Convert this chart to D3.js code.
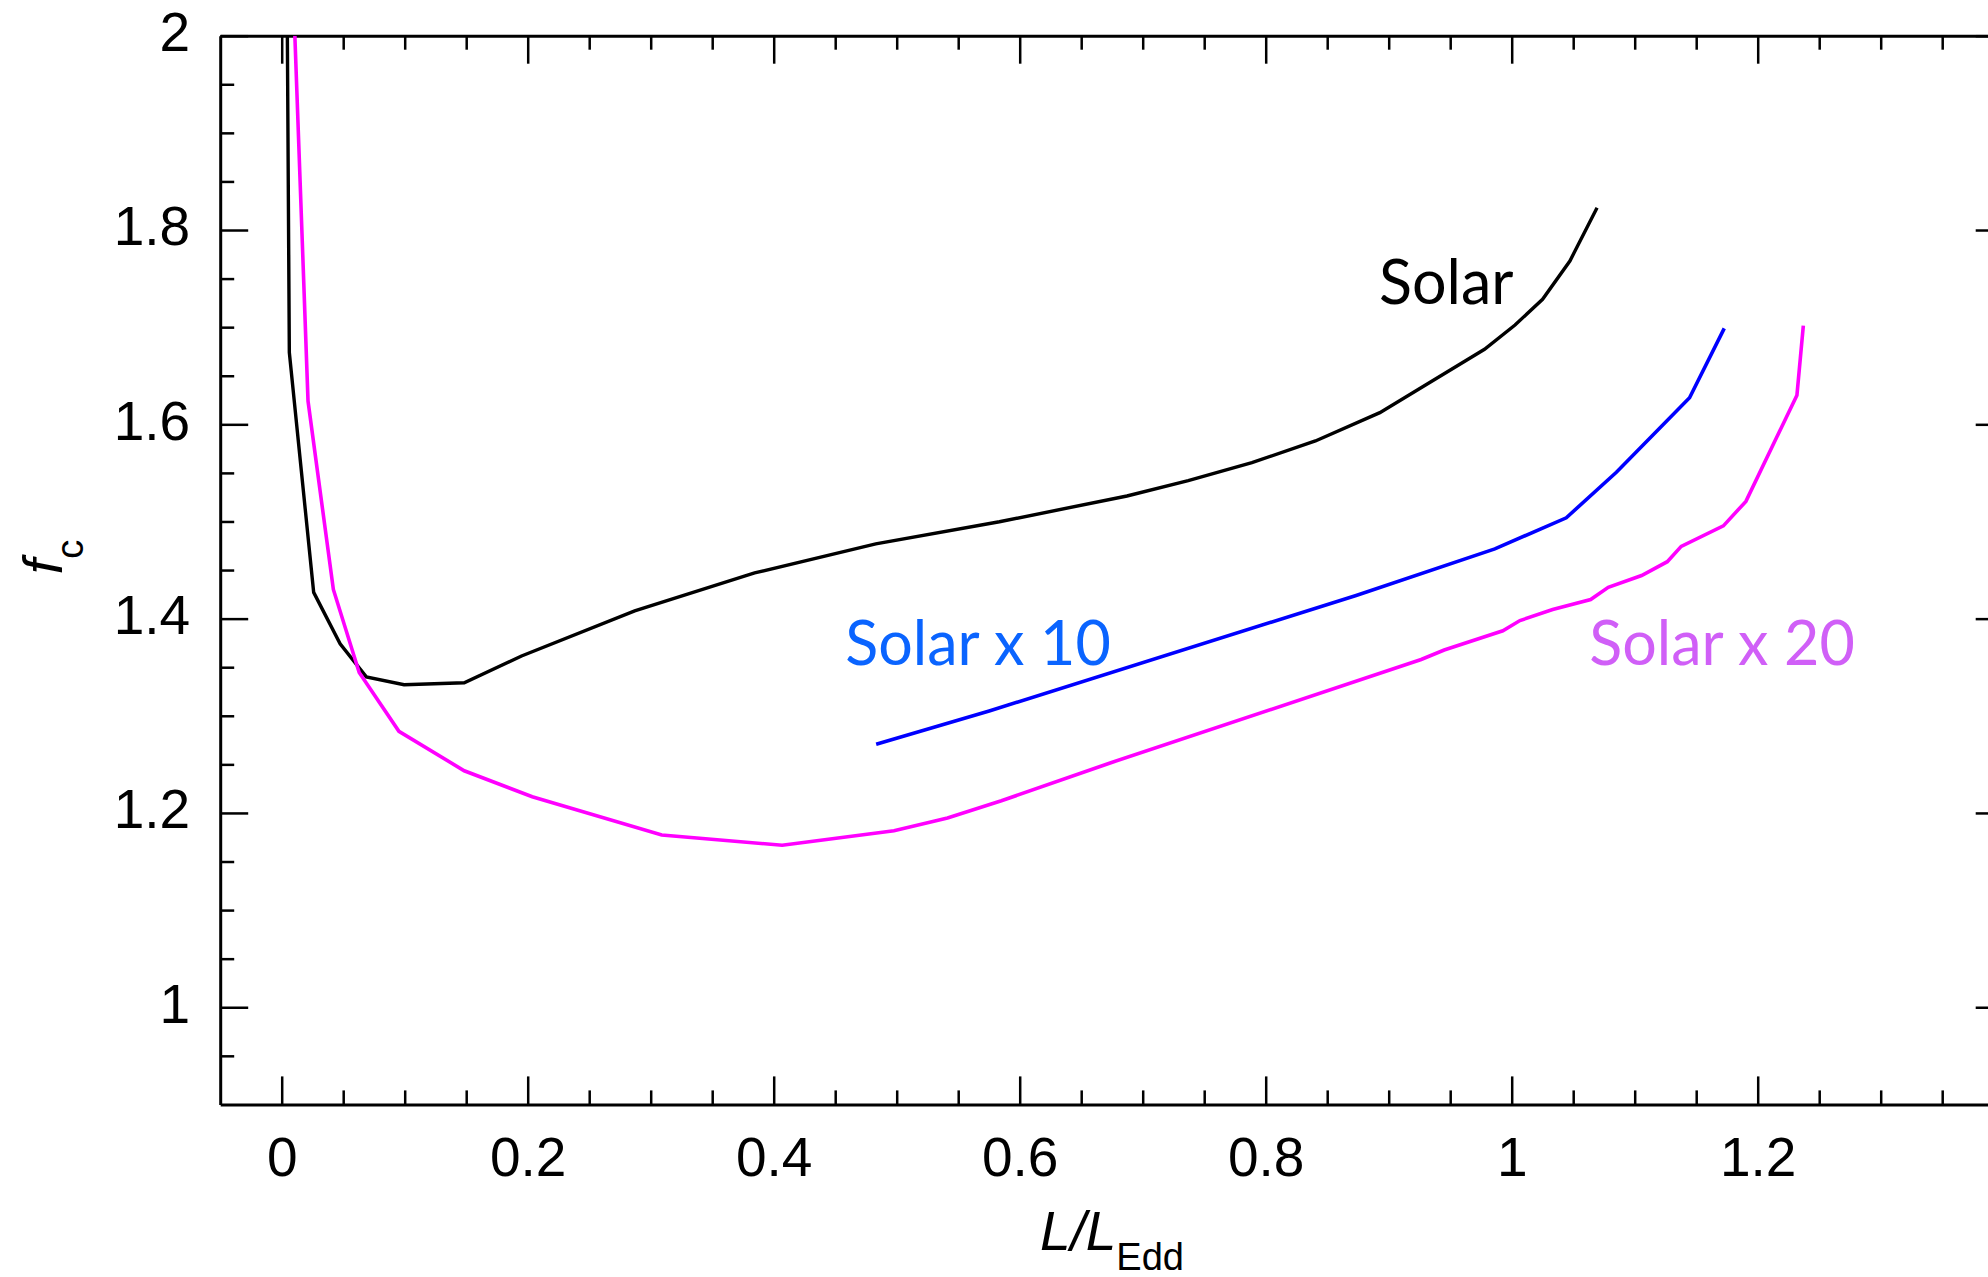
<!DOCTYPE html>
<html>
<head>
<meta charset="utf-8">
<script src="https://cdn.jsdelivr.net/npm/d3@7"></script>
<style>
  html, body { margin: 0; padding: 0; background: #fff; }
  svg { display: block; }
</style>
</head>
<body>
<script>
// Colour-correction factor f_c versus Eddington ratio for three metallicities

// Solar abundance
const solarL = [0.0046, 0.0062, 0.0260, 0.0475, 0.0688, 0.0995, 0.1484, 0.1950, 0.2870, 0.3845, 0.4830, 0.5835, 0.6872, 0.7370, 0.7888, 0.8404, 0.8928, 0.9779, 1.0027, 1.0251, 1.0473, 1.0694];
const solarF = [2.000, 1.674, 1.427, 1.374, 1.340, 1.332, 1.334, 1.3615, 1.408, 1.447, 1.477, 1.4997, 1.5262, 1.542, 1.5605, 1.5829, 1.612, 1.6772, 1.7022, 1.7287, 1.7681, 1.823];

// 10 x solar
const solar10L = [0.4833, 0.5752, 0.8735, 0.9863, 1.0444, 1.0851, 1.1446, 1.1728];
const solar10F = [1.2706, 1.3049, 1.4238, 1.4718, 1.5038, 1.5507, 1.6274, 1.6988];

// 20 x solar
const solar20L = [0.0107, 0.0214, 0.0420, 0.0630, 0.0953, 0.1484, 0.2037, 0.3090, 0.4069, 0.4978, 0.5413, 0.5851, 0.6741, 0.9264, 0.9451, 0.9928, 1.0067, 1.0333, 1.0642, 1.0785, 1.1056, 1.1265, 1.1378, 1.1721, 1.1904, 1.2319, 1.2371];
const solar20F = [2.000, 1.624, 1.430, 1.3445, 1.284, 1.2434, 1.2167, 1.1773, 1.1667, 1.1817, 1.1947, 1.2125, 1.2517, 1.3579, 1.3677, 1.3875, 1.398, 1.4093, 1.4197, 1.4322, 1.4444, 1.4586, 1.4744, 1.4955, 1.5207, 1.6299, 1.7015];

// Curve labels
const seriesNames = ["Solar", "Solar x 10", "Solar x 20"];

// Axis ticks
const xMajorTicks = [0, 0.2, 0.4, 0.6, 0.8, 1, 1.2];
const xTickLabels = ["0", "0.2", "0.4", "0.6", "0.8", "1", "1.2"];
const xMinorTicks = [0.05, 0.1, 0.15, 0.25, 0.3, 0.35, 0.45, 0.5, 0.55, 0.65, 0.7, 0.75, 0.85, 0.9, 0.95, 1.05, 1.1, 1.15, 1.25, 1.3, 1.35];
const yMajorTicks = [1, 1.2, 1.4, 1.6, 1.8, 2];
const yTickLabels = ["1", "1.2", "1.4", "1.6", "1.8", "2"];
const yMinorTicks = [0.95, 1.05, 1.1, 1.15, 1.25, 1.3, 1.35, 1.45, 1.5, 1.55, 1.65, 1.7, 1.75, 1.85, 1.9, 1.95];

const W = 1988, H = 1277;
const plotL = 220.2, plotR = 2003.7, plotT = 35.7, plotB = 1104.4;
const AXIS_FONT = "'Liberation Sans', Arial, Helvetica, sans-serif";
const LABEL_FONT = "'Gill Sans', 'Gill Sans MT', Lato, sans-serif";

const svg = d3.select("body").append("svg")
  .attr("width", W).attr("height", H)
  .attr("viewBox", `0 0 ${W} ${H}`);

svg.append("rect").attr("width", W).attr("height", H).attr("fill", "#fff");

const x = d3.scaleLinear().domain([-0.05, 1.4]).range([plotL, plotR]);
const y = d3.scaleLinear().domain([0.9, 2]).range([plotB, plotT]);

svg.append("defs").append("clipPath").attr("id", "plot-clip")
  .append("rect").attr("x", plotL).attr("y", plotT)
  .attr("width", plotR - plotL).attr("height", plotB - plotT);

// ---- axes ----
const MAJOR = 28, MINOR = 14;

function styleAxis(g, fontSize) {
  g.selectAll(".domain").attr("stroke", "#000").attr("stroke-width", 3);
  g.selectAll(".tick line").attr("stroke", "#000").attr("stroke-width", 2.5);
  g.selectAll(".tick text")
    .attr("fill", "#000")
    .attr("font-family", AXIS_FONT)
    .attr("font-size", fontSize);
}

// bottom
const gB = svg.append("g").attr("transform", `translate(0,${plotB})`)
  .call(d3.axisBottom(x).tickValues(xMajorTicks)
    .tickFormat((d, i) => xTickLabels[i])
    .tickSizeInner(-MAJOR).tickSizeOuter(0).tickPadding(33));
styleAxis(gB, 55);
gB.selectAll(".tick text").attr("dy", "0.71em");
const gBm = svg.append("g").attr("transform", `translate(0,${plotB})`)
  .call(d3.axisBottom(x).tickValues(xMinorTicks).tickFormat("")
    .tickSizeInner(-MINOR).tickSizeOuter(0));
gBm.select(".domain").remove();
styleAxis(gBm, 0);

// top
const gT = svg.append("g").attr("transform", `translate(0,${plotT})`)
  .call(d3.axisTop(x).tickValues(xMajorTicks).tickFormat("")
    .tickSizeInner(-MAJOR).tickSizeOuter(0));
styleAxis(gT, 0);
const gTm = svg.append("g").attr("transform", `translate(0,${plotT})`)
  .call(d3.axisTop(x).tickValues(xMinorTicks).tickFormat("")
    .tickSizeInner(-MINOR).tickSizeOuter(0));
gTm.select(".domain").remove();
styleAxis(gTm, 0);

// left
const gL = svg.append("g").attr("transform", `translate(${plotL},0)`)
  .call(d3.axisLeft(y).tickValues(yMajorTicks)
    .tickFormat((d, i) => yTickLabels[i])
    .tickSizeInner(-MAJOR).tickSizeOuter(0).tickPadding(30));
styleAxis(gL, 55);
gL.selectAll(".tick text").attr("dy", "0.27em");
const gLm = svg.append("g").attr("transform", `translate(${plotL},0)`)
  .call(d3.axisLeft(y).tickValues(yMinorTicks).tickFormat("")
    .tickSizeInner(-MINOR).tickSizeOuter(0));
gLm.select(".domain").remove();
styleAxis(gLm, 0);

// right
const gR = svg.append("g").attr("transform", `translate(${plotR},0)`)
  .call(d3.axisRight(y).tickValues(yMajorTicks).tickFormat("")
    .tickSizeInner(-MAJOR).tickSizeOuter(0));
styleAxis(gR, 0);
const gRm = svg.append("g").attr("transform", `translate(${plotR},0)`)
  .call(d3.axisRight(y).tickValues(yMinorTicks).tickFormat("")
    .tickSizeInner(-MINOR).tickSizeOuter(0));
gRm.select(".domain").remove();
styleAxis(gRm, 0);

// ---- curves ----
const line = d3.line().x(d => x(d[0])).y(d => y(d[1]));
const series = [
  { L: solarL,   F: solarF,   color: "#000000", width: 3.4 },
  { L: solar10L, F: solar10F, color: "#0000ff", width: 3.6 },
  { L: solar20L, F: solar20F, color: "#ff00ff", width: 3.6 }
];
const gLines = svg.append("g").attr("clip-path", "url(#plot-clip)");
series.forEach(s => {
  gLines.append("path")
    .datum(d3.zip(s.L, s.F))
    .attr("d", line)
    .attr("fill", "none")
    .attr("stroke", s.color)
    .attr("stroke-width", s.width)
    .attr("stroke-linejoin", "miter");
});

// ---- curve labels ----
const labelPos = [
  { at: [0.8922, 1.7237], color: "#000000" },
  { at: [0.4582, 1.3522], color: "#0a64ff" },
  { at: [1.0631, 1.3522], color: "#d05ff7" }
];
seriesNames.forEach((name, i) => {
  svg.append("text")
    .attr("x", x(labelPos[i].at[0]))
    .attr("y", y(labelPos[i].at[1]))
    .attr("font-family", LABEL_FONT)
    .attr("font-size", 61)
    .attr("fill", labelPos[i].color)
    .text(name);
});

// ---- axis titles ----
const xTitle = svg.append("text")
  .attr("x", (plotL + plotR) / 2)
  .attr("y", 1250)
  .attr("text-anchor", "middle")
  .attr("font-family", AXIS_FONT)
  .attr("font-size", 55)
  .attr("fill", "#000");
xTitle.append("tspan").attr("font-style", "italic").text("L/L");
xTitle.append("tspan").attr("font-size", 38).attr("dy", 20).text("Edd");

const yTitle = svg.append("text")
  .attr("transform", "translate(61.7,557) rotate(-90)")
  .attr("text-anchor", "middle")
  .attr("font-family", AXIS_FONT)
  .attr("font-size", 55)
  .attr("fill", "#000");
yTitle.append("tspan").attr("font-style", "italic").text("f");
yTitle.append("tspan").attr("font-size", 38).attr("dy", 21).text("c");
</script>
</body>
</html>
